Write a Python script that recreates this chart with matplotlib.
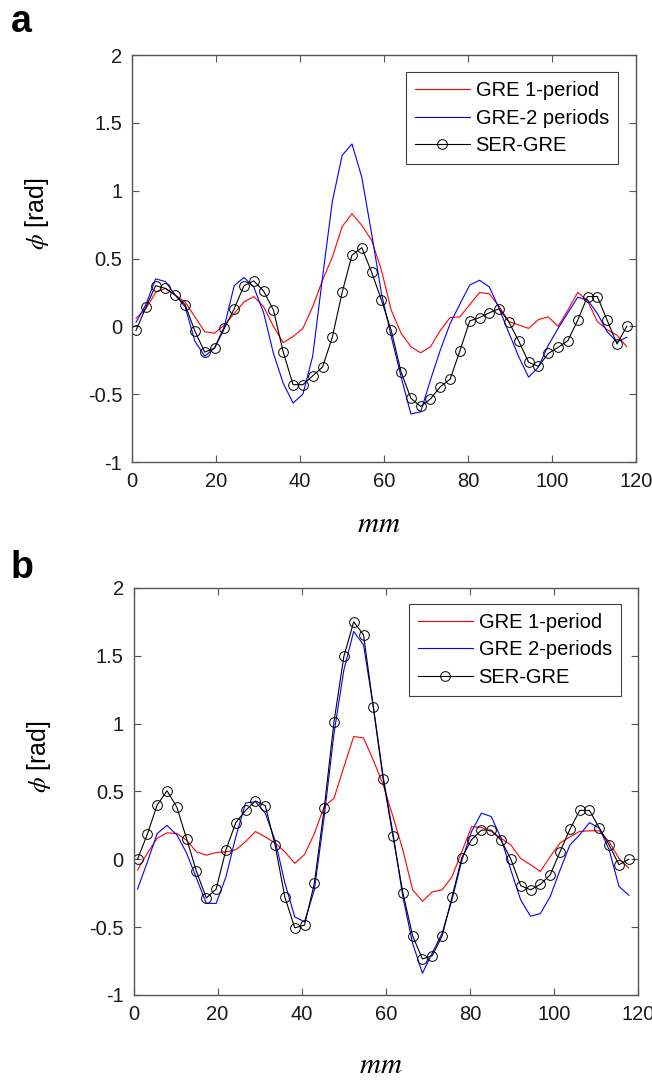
import numpy as np
import matplotlib
matplotlib.use("Agg")
import matplotlib.pyplot as plt
from matplotlib.ticker import FormatStrFormatter

plt.rcParams['font.family'] = ['Liberation Sans', 'DejaVu Sans']
plt.rcParams['mathtext.fontset'] = 'stix'
plt.rcParams['axes.unicode_minus'] = False

# sample positions (mm), same grid for all curves
x = np.linspace(0.95, 117.8, 51)

# panel a
gre1_a = [0.06, 0.13, 0.25, 0.28, 0.23, 0.18, 0.07, -0.04, -0.05, 0.01,
          0.095, 0.18, 0.22, 0.145, 0.0, -0.12, -0.075, -0.015, 0.145, 0.34,
          0.51, 0.735, 0.83, 0.745, 0.635, 0.415, 0.12, -0.05, -0.15, -0.195,
          -0.15, -0.03, 0.065, 0.07, 0.16, 0.25, 0.24, 0.145, 0.035, 0.01,
          -0.015, 0.05, 0.07, 0.0, 0.12, 0.25, 0.19, 0.035, -0.025, -0.065,
          -0.15]
gre2_a = [0.03, 0.16, 0.35, 0.33, 0.23, 0.145, -0.11, -0.22, -0.16, 0.0,
          0.30, 0.36, 0.29, 0.10, -0.20, -0.42, -0.565, -0.50, -0.22, 0.36,
          0.92, 1.26, 1.345, 1.10, 0.685, 0.245, -0.075, -0.37, -0.645, -0.63,
          -0.395, -0.175, 0.02, 0.165, 0.305, 0.34, 0.29, 0.13, -0.05, -0.225,
          -0.375, -0.30, -0.14, -0.015, 0.10, 0.215, 0.195, 0.095, -0.04, -0.115,
          -0.08]
ser_a = [-0.03, 0.14, 0.30, 0.28, 0.23, 0.16, -0.035, -0.19, -0.16, -0.015,
         0.13, 0.30, 0.335, 0.26, 0.12, -0.19, -0.43, -0.43, -0.365, -0.30,
         -0.08, 0.25, 0.525, 0.58, 0.40, 0.195, -0.03, -0.335, -0.53, -0.59,
         -0.535, -0.445, -0.39, -0.18, 0.04, 0.065, 0.10, 0.13, 0.03, -0.11,
         -0.265, -0.295, -0.20, -0.155, -0.105, 0.045, 0.22, 0.22, 0.045, -0.13,
         0.0]

# panel b
gre1_b = [-0.08, 0.045, 0.155, 0.195, 0.19, 0.14, 0.055, 0.03, 0.05, 0.055,
          0.07, 0.13, 0.205, 0.165, 0.12, 0.055, -0.03, 0.035, 0.19, 0.39,
          0.45, 0.68, 0.905, 0.895, 0.73, 0.55, 0.315, 0.07, -0.225, -0.31,
          -0.24, -0.225, -0.13, 0.055, 0.24, 0.235, 0.205, 0.155, 0.105, 0.005,
          -0.04, -0.09, 0.02, 0.12, 0.165, 0.205, 0.21, 0.21, 0.13, 0.005,
          -0.065]
gre2_b = [-0.22, -0.02, 0.19, 0.25, 0.18, 0.045, -0.14, -0.325, -0.325, -0.13,
          0.165, 0.415, 0.425, 0.34, 0.14, -0.175, -0.425, -0.46, -0.225, 0.315,
          0.93, 1.395, 1.68, 1.58, 1.125, 0.61, 0.19, -0.275, -0.62, -0.84,
          -0.69, -0.545, -0.30, -0.01, 0.205, 0.34, 0.315, 0.155, -0.08, -0.30,
          -0.42, -0.40, -0.275, -0.08, 0.105, 0.18, 0.27, 0.23, 0.07, -0.20,
          -0.265]
ser_b = [0.0, 0.185, 0.40, 0.505, 0.385, 0.15, -0.09, -0.285, -0.22, 0.07,
         0.27, 0.36, 0.43, 0.395, 0.105, -0.28, -0.505, -0.485, -0.175, 0.375,
         1.015, 1.495, 1.75, 1.655, 1.12, 0.59, 0.17, -0.245, -0.565, -0.735,
         -0.71, -0.565, -0.28, 0.01, 0.145, 0.215, 0.215, 0.14, 0.0, -0.195,
         -0.225, -0.185, -0.115, 0.055, 0.22, 0.36, 0.36, 0.23, 0.105, -0.04,
         0.0]

labels_a = ['GRE 1-period', 'GRE-2 periods', 'SER-GRE']
labels_b = ['GRE 1-period', 'GRE 2-periods', 'SER-GRE']
xticks = [0, 20, 40, 60, 80, 100, 120]
yticks = [-1, -0.5, 0, 0.5, 1, 1.5, 2]

fig = plt.figure(figsize=(6.52, 10.81), dpi=100)
ax_a = fig.add_axes([0.2025, 0.5726, 0.773, 0.3765])
ax_b = fig.add_axes([0.2048, 0.0796, 0.7738, 0.3765])


def draw(ax, g1, g2, s, labels, anchor, ylab_y):
    ax.plot(x, g1, color='#ff0000', lw=0.8, label=labels[0])
    ax.plot(x, g2, color='#0000ff', lw=0.8, label=labels[1])
    ax.plot(x, s, color='black', lw=0.8, marker='o', ms=7,
            mfc='none', mec='black', mew=0.7, label=labels[2])
    ax.set_xlim(0, 120)
    ax.set_ylim(-1, 2)
    ax.set_xticks(xticks)
    ax.set_yticks(yticks)
    ax.yaxis.set_major_formatter(FormatStrFormatter('%g'))
    ax.tick_params(direction='in', length=5, width=0.8, top=True, right=True,
                   labelsize=14.5, pad=7, colors='#555555', labelcolor='#1a1a1a')
    for sp in ax.spines.values():
        sp.set_color('#555555')
        sp.set_linewidth(1.0)
    ax.set_ylabel(r'$\phi$ [rad]', fontsize=18)
    ax.yaxis.set_label_coords(-0.16, ylab_y)
    ax.set_xlabel(r'$mm$', fontsize=21)
    leg = ax.legend(loc='upper right', bbox_to_anchor=anchor, borderaxespad=0,
                    fontsize=14.5, handlelength=2.7, handletextpad=0.3,
                    labelspacing=0.42, borderpad=0.45, fancybox=False,
                    framealpha=1, edgecolor='#404040')
    leg.get_frame().set_linewidth(0.8)


draw(ax_a, gre1_a, gre2_a, ser_a, labels_a, (0.964, 0.958), 0.61)
draw(ax_b, gre1_b, gre2_b, ser_b, labels_b, (0.966, 0.961), 0.585)
ax_a.xaxis.set_label_coords(0.49, -0.118)
ax_b.xaxis.set_label_coords(0.49, -0.138)

fig.text(11 / 652, 1 - 32 / 1081, 'a', fontsize=27, fontweight='bold',
         va='baseline', ha='left')
fig.text(11 / 652, 1 - 578 / 1081, 'b', fontsize=27, fontweight='bold',
         va='baseline', ha='left')

fig.savefig('out.png', dpi=100)
